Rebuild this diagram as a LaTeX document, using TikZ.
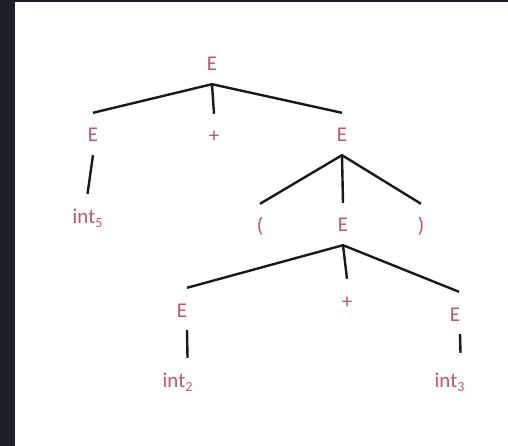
\documentclass[tikz,border=0pt]{standalone}
\usepackage{fontspec}
\setmainfont{Carlito}
\definecolor{sym}{HTML}{B9566F}
\definecolor{frame}{HTML}{1B202B}
\newcommand{\isub}[1]{\raisebox{-0.22em}{\fontsize{14}{16}\selectfont #1}}
\begin{document}
\begin{tikzpicture}[x=1pt,y=-1pt,
  tn/.style={text=sym, font=\fontsize{21}{24}\selectfont, inner sep=0pt,
             text height=29pt, text depth=13pt, anchor=base},
  edge/.style={draw=black!90, line width=2.4pt}]
\useasboundingbox (0,0) rectangle (508,446);
\fill[frame] (0,0) rectangle (508,446);
\fill[white] (15,2) rectangle (508,446);
% nodes (base line positions)
\node[tn] (r)  at (212,71)  {E};
\node[tn] (e1) at (93,142)  {E};
\node[tn] (p1) at (214,143) {+};
\node[tn] (e2) at (342,142) {E};
\node[tn] (i5) at (87.5,223) {int\isub{5}};
\node[tn] (lp) at (260,233) {(};
\node[tn] (e3) at (343,232) {E};
\node[tn] (rp) at (421,233) {)};
\node[tn] (e4) at (182,317) {E};
\node[tn] (p2) at (347,308) {+};
\node[tn] (e5) at (455,321) {E};
\node[tn] (i2) at (177.5,387) {int\isub{2}};
\node[tn] (i3) at (449.5,387) {int\isub{3}};
% connectors
\draw[edge] (e1.north) -- (r.south) -- (e2.north);
\draw[edge] (r.south) -- (p1.north);
\draw[edge] (e1.south) -- (i5.north);
\draw[edge] (lp.north) -- (e2.south) -- (rp.north);
\draw[edge] (e2.south) -- (e3.north);
\draw[edge] ([xshift=5pt]e4.north) -- (e3.south) -- ([xshift=4pt]e5.north);
\draw[edge] (e3.south) -- (p2.north);
\draw[edge] ([xshift=5pt]e4.south) -- ([xshift=10pt]i2.north);
\draw[edge] ([xshift=5pt]e5.south) -- ([xshift=11pt,yshift=5pt]i3.north);
\end{tikzpicture}
\end{document}
